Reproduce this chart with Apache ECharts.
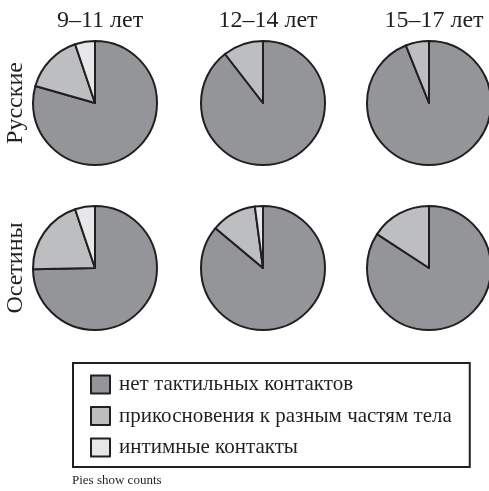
<!DOCTYPE html>
<html><head><meta charset="utf-8">
<script src="https://cdn.jsdelivr.net/npm/echarts@6/dist/echarts.min.js"></script>
<style>html,body{margin:0;padding:0;background:#fff}#c{width:489px;height:491px}</style>
</head><body><div id="c"></div>
<script>
var categories = ['нет тактильных контактов', 'прикосновения к разным частям тела', 'интимные контакты'];
var ageGroups = ['9–11 лет', '12–14 лет', '15–17 лет'];
var groups = ['Русские', 'Осетины'];
// values per pie (order: categories)
var russian_9_11 = [79.4, 15.4, 5.2];
var russian_12_14 = [89.5, 10.5, 0];
var russian_15_17 = [93.9, 6.1, 0];
var ossetian_9_11 = [74.7, 20.1, 5.2];
var ossetian_12_14 = [86.1, 11.8, 2.1];
var ossetian_15_17 = [84.2, 15.8, 0];
var colors = ['#939598', '#bcbec0', '#e6e7e8'];

var rows = [[russian_9_11, russian_12_14, russian_15_17], [ossetian_9_11, ossetian_12_14, ossetian_15_17]];
var cx = [95, 263, 429];
var cy = [103, 268];
var font = '"Liberation Serif", "DejaVu Serif", serif';
var ink = '#231f20';

var series = [];
rows.forEach(function (row, r) {
  row.forEach(function (vals, c) {
    var data = [];
    vals.forEach(function (v, i) {
      if (v > 0) data.push({ name: categories[i], value: v, itemStyle: { color: colors[i] } });
    });
    series.push({
      type: 'pie', center: [cx[c], cy[r]], radius: 62, startAngle: 90, clockwise: true,
      silent: true, animation: false,
      label: { show: false }, labelLine: { show: false },
      itemStyle: { borderColor: ink, borderWidth: 2 },
      data: data
    });
  });
});

var titles = ageGroups.map(function (t, c) {
  return { text: t, left: cx[c], top: 4, textAlign: 'center',
    textStyle: { fontFamily: font, fontWeight: 'normal', fontSize: 24, color: ink } };
});
titles.push({ text: 'Pies show counts', left: 72, top: 474, padding: 0,
  textStyle: { fontFamily: font, fontWeight: 'normal', fontSize: 13, color: ink } });

var graphics = groups.map(function (g, r) {
  return { type: 'text', x: 16, y: cy[r], rotation: Math.PI / 2,
    style: { text: g, font: '24px ' + font, fill: ink, textAlign: 'center', textVerticalAlign: 'middle' } };
});

var chart = echarts.init(document.getElementById('c'));
chart.setOption({
  backgroundColor: '#fff',
  title: titles,
  graphic: graphics,
  legend: {
    data: categories, orient: 'vertical', left: 73, top: 363,
    itemWidth: 19, itemHeight: 18, itemGap: 10.5, icon: 'rect',
    padding: [11, 18, 9, 17],
    borderColor: ink, borderWidth: 2,
    selectedMode: false,
    itemStyle: { borderColor: ink, borderWidth: 2 },
    textStyle: { fontFamily: font, fontSize: 21, lineHeight: 18, color: ink, padding: [0, 0, 0, 4] }
  },
  series: series
});
</script></body></html>
